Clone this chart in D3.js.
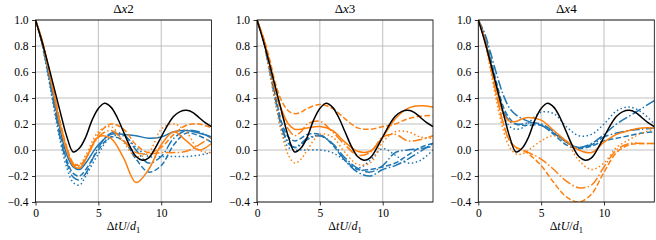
<!DOCTYPE html>
<html>
<head>
<meta charset="utf-8">
<script src="https://cdn.jsdelivr.net/npm/d3@7"></script>
<style>
body { margin: 0; background: #fff; }
svg text { fill: #000; }
</style>
</head>
<body>
<div id="chart"></div>
<script>
// sample times for the coloured curves
const T = [0, 0.5, 1, 1.5, 2, 2.5, 3, 3.5, 4, 5, 6, 7, 8, 9, 10, 11, 12, 13, 14];

// black reference curve (same in every panel)
const refT = [0, 0.5, 1, 1.5, 2, 2.5, 3, 3.5, 4, 4.5, 5, 5.5, 6, 6.5, 7, 7.5, 8, 8.5, 9, 9.5, 10, 10.5, 11, 11.5, 12, 12.5, 13, 13.5, 14];
const refCurve = [1, 0.84, 0.66, 0.47, 0.28, 0.1, -0.015, 0.015, 0.1, 0.23, 0.32, 0.36, 0.33, 0.25, 0.14, 0.03, -0.05, -0.078, -0.06, 0.01, 0.1, 0.19, 0.26, 0.295, 0.305, 0.29, 0.25, 0.21, 0.18];

const panelTitles = ["2", "3", "4"];
const xTicks = [0, 5, 10];
const yTicks = [-0.4, -0.2, 0, 0.2, 0.4, 0.6, 0.8, 1.0];

// Δx2
const dx2BlueSolid    = [1, 0.84, 0.62, 0.38, 0.14, -0.04, -0.13, -0.15, -0.1, 0.04, 0.12, 0.12, 0.11, 0.09, 0.1, 0.14, 0.15, 0.13, 0.1];
const dx2BlueDashed   = [1, 0.83, 0.6, 0.35, 0.1, -0.08, -0.18, -0.2, -0.15, 0.0, 0.1, 0.07, -0.07, -0.17, -0.12, 0.04, 0.13, 0.11, 0.06];
const dx2BlueDashDot  = [1, 0.83, 0.59, 0.33, 0.08, -0.1, -0.21, -0.23, -0.18, 0.02, 0.13, 0.12, 0.0, -0.1, -0.05, 0.09, 0.15, 0.14, 0.09];
const dx2BlueDotted   = [1, 0.82, 0.57, 0.3, 0.05, -0.14, -0.25, -0.27, -0.2, -0.03, 0.1, 0.11, 0.02, -0.05, -0.05, -0.05, -0.05, -0.04, -0.02];
const dx2OrangeSolid  = [1, 0.85, 0.64, 0.41, 0.18, 0.0, -0.12, -0.14, -0.07, 0.1, 0.09, -0.06, -0.25, -0.15, 0.04, 0.14, 0.07, 0.0, 0.05];
const dx2OrangeDashed = [1, 0.85, 0.65, 0.43, 0.2, 0.02, -0.1, -0.12, -0.06, 0.12, 0.2, 0.16, 0.04, -0.02, 0.02, 0.12, 0.19, 0.2, 0.17];
const dx2OrangeDashDot= [1, 0.85, 0.64, 0.42, 0.19, 0.01, -0.11, -0.13, -0.07, 0.1, 0.15, 0.07, -0.02, -0.03, -0.02, -0.02, -0.01, 0.04, 0.1];
const dx2OrangeDotted = [1, 0.84, 0.63, 0.4, 0.17, -0.01, -0.1, -0.11, -0.04, 0.14, 0.18, 0.06, -0.05, -0.02, 0.16, 0.2, 0.14, 0.0, -0.02];

// Δx3
const dx3BlueDashed   = [1, 0.85, 0.63, 0.4, 0.2, 0.1, 0.07, 0.09, 0.12, 0.12, 0.04, -0.08, -0.15, -0.15, -0.13, -0.1, -0.04, 0.02, 0.05];
const dx3BlueDashDot  = [1, 0.85, 0.62, 0.38, 0.17, 0.06, 0.02, 0.04, 0.08, 0.11, 0.05, -0.08, -0.17, -0.2, -0.15, -0.12, -0.07, -0.01, 0.05];
const dx3BlueDotted   = [1, 0.84, 0.6, 0.35, 0.13, 0.02, 0.0, 0.0, 0.0, 0.0, -0.02, -0.08, -0.14, -0.08, 0.01, -0.04, -0.1, -0.08, 0.0];
const dx3BlueDotted2  = [1, 0.85, 0.62, 0.37, 0.16, 0.05, 0.02, 0.05, 0.09, 0.11, 0.05, -0.06, -0.14, -0.17, -0.12, -0.02, 0.0, 0.01, 0.03];
const dx3OrangeSolid  = [1, 0.86, 0.67, 0.45, 0.3, 0.2, 0.16, 0.16, 0.17, 0.18, 0.15, 0.06, -0.01, -0.01, 0.1, 0.24, 0.32, 0.34, 0.33];
const dx3OrangeDashed = [1, 0.87, 0.7, 0.5, 0.37, 0.3, 0.28, 0.29, 0.32, 0.35, 0.32, 0.24, 0.17, 0.16, 0.18, 0.2, 0.24, 0.26, 0.265];
const dx3OrangeDashDot= [1, 0.86, 0.66, 0.44, 0.27, 0.16, 0.11, 0.14, 0.2, 0.22, 0.14, 0.04, -0.04, -0.02, 0.1, 0.12, 0.07, 0.08, 0.11];
const dx3OrangeDotted = [1, 0.84, 0.6, 0.35, 0.12, -0.04, -0.1, -0.07, 0.0, 0.12, 0.1, -0.02, -0.11, -0.1, 0.06, 0.14, 0.14, 0.1, 0.09];

// Δx4
const dx4BlueDashDot  = [1, 0.9, 0.74, 0.57, 0.42, 0.32, 0.27, 0.24, 0.22, 0.19, 0.13, 0.06, 0.02, 0.05, 0.12, 0.2, 0.26, 0.32, 0.38];
const dx4BlueDashed   = [1, 0.88, 0.7, 0.5, 0.33, 0.24, 0.2, 0.19, 0.19, 0.19, 0.12, 0.04, 0.01, 0.03, 0.07, 0.09, 0.11, 0.13, 0.14];
const dx4BlueDotted   = [1, 0.87, 0.67, 0.45, 0.27, 0.18, 0.16, 0.17, 0.21, 0.29, 0.28, 0.18, 0.11, 0.12, 0.2, 0.3, 0.33, 0.29, 0.2];
const dx4BlueDotted2  = [1, 0.87, 0.68, 0.47, 0.3, 0.22, 0.2, 0.2, 0.21, 0.2, 0.14, 0.06, 0.02, 0.04, 0.1, 0.13, 0.15, 0.16, 0.17];
const dx4OrangeSolid  = [1, 0.86, 0.66, 0.45, 0.28, 0.22, 0.22, 0.24, 0.25, 0.23, 0.15, 0.07, 0.0, -0.02, 0.06, 0.12, 0.15, 0.17, 0.17];
const dx4OrangeDashed = [1, 0.85, 0.63, 0.4, 0.2, 0.07, 0.02, 0.0, -0.03, -0.12, -0.25, -0.36, -0.4, -0.34, -0.17, -0.02, 0.04, 0.05, 0.05];
const dx4OrangeDashDot= [1, 0.85, 0.63, 0.4, 0.2, 0.07, 0.02, 0.0, -0.02, -0.07, -0.15, -0.24, -0.29, -0.27, -0.13, 0.0, 0.05, 0.05, 0.05];
const dx4OrangeDotted = [1, 0.84, 0.6, 0.35, 0.15, 0.02, -0.03, -0.03, 0.0, 0.07, 0.11, 0.06, -0.08, -0.15, -0.1, 0.02, 0.08, 0.13, 0.16];

const blue = '#1f77b4';
const orange = '#ff7f0e';
const dash = { solid: null, dashed: '5.5,2.4', dashdot: '9.6,2.4,1.5,2.4', dotted: '1.5,2.5' };
const fontFam = '"Liberation Serif", "Times New Roman", serif';

const panels = [
  { title: panelTitles[0], series: [
    [dx2BlueSolid, blue, 'solid'], [dx2BlueDashed, blue, 'dashed'], [dx2BlueDashDot, blue, 'dashdot'], [dx2BlueDotted, blue, 'dotted'],
    [dx2OrangeSolid, orange, 'solid'], [dx2OrangeDashed, orange, 'dashed'], [dx2OrangeDashDot, orange, 'dashdot'], [dx2OrangeDotted, orange, 'dotted'] ] },
  { title: panelTitles[1], series: [
    [dx3BlueDashed, blue, 'dashed'], [dx3BlueDashDot, blue, 'dashdot'], [dx3BlueDotted, blue, 'dotted'], [dx3BlueDotted2, blue, 'dashdot'],
    [dx3OrangeSolid, orange, 'solid'], [dx3OrangeDashed, orange, 'dashed'], [dx3OrangeDashDot, orange, 'dashdot'], [dx3OrangeDotted, orange, 'dotted'] ] },
  { title: panelTitles[2], series: [
    [dx4BlueDashDot, blue, 'dashdot'], [dx4BlueDashed, blue, 'dashed'], [dx4BlueDotted, blue, 'dotted'], [dx4BlueDotted2, blue, 'dashdot'],
    [dx4OrangeSolid, orange, 'solid'], [dx4OrangeDashed, orange, 'dashed'], [dx4OrangeDashDot, orange, 'dashdot'], [dx4OrangeDotted, orange, 'dotted'] ] }
];

const W = 656, H = 240;
const panelLeft = [35.5, 257, 478.3];
const pw = 176, plotTop = 20, ph = 182;

const svg = d3.select('#chart').append('svg')
  .attr('width', W)
  .attr('height', H)
  .attr('font-family', fontFam);

const x = d3.scaleLinear().domain([0, 14]).range([0, pw]);
const y = d3.scaleLinear().domain([-0.4, 1.0]).range([ph, 0]);

const line = d3.line()
  .x(d => x(d[0]))
  .y(d => y(d[1]))
  .curve(d3.curveCatmullRom.alpha(0.5));

panels.forEach((p, i) => {
  const g = svg.append('g').attr('transform', `translate(${panelLeft[i]},${plotTop})`);

  g.append('clipPath').attr('id', 'clip' + i)
    .append('rect').attr('width', pw).attr('height', ph);

  // grid
  g.append('g').selectAll('line').data(xTicks).enter().append('line')
    .attr('x1', d => x(d)).attr('x2', d => x(d)).attr('y1', 0).attr('y2', ph)
    .style('stroke', '#b0b0b0').style('stroke-width', 0.8);
  g.append('g').selectAll('line').data(yTicks).enter().append('line')
    .attr('x1', 0).attr('x2', pw).attr('y1', d => y(d)).attr('y2', d => y(d))
    .style('stroke', '#b0b0b0').style('stroke-width', 0.8);

  const curves = g.append('g').attr('clip-path', `url(#clip${i})`);
  p.series.forEach(s => {
    curves.append('path')
      .datum(T.map((t, k) => [t, s[0][k]]))
      .attr('d', line)
      .style('fill', 'none')
      .style('stroke', s[1])
      .style('stroke-width', 1.5)
      .style('stroke-dasharray', dash[s[2]]);
  });
  curves.append('path')
    .datum(refT.map((t, k) => [t, refCurve[k]]))
    .attr('d', line)
    .style('fill', 'none')
    .style('stroke', '#000')
    .style('stroke-width', 1.5);

  // axes
  const xAxis = g.append('g').attr('transform', `translate(0,${ph})`)
    .call(d3.axisBottom(x).tickValues(xTicks).tickSize(3.5).tickPadding(3.5));
  const yAxis = g.append('g')
    .call(d3.axisLeft(y).tickValues(yTicks).tickSize(3.5).tickPadding(3.5)
      .tickFormat(d => d3.format('.1f')(d).replace('-', '\u2212')));
  [xAxis, yAxis].forEach(a => {
    a.attr('font-family', fontFam).attr('font-size', 11.5);
    a.select('.domain').remove();
    a.selectAll('line').style('stroke', '#000').style('stroke-width', 0.8);
  });

  g.append('rect').attr('width', pw).attr('height', ph)
    .style('fill', 'none').style('stroke', '#000').style('stroke-width', 0.8);

  // title
  const title = g.append('text').attr('x', pw / 2).attr('y', -7)
    .attr('text-anchor', 'middle').attr('font-size', 13);
  title.append('tspan').text('\u0394');
  title.append('tspan').attr('font-style', 'italic').text('x');
  title.append('tspan').text(p.title);

  // x label
  const xl = g.append('text').attr('x', pw / 2).attr('y', ph + 28)
    .attr('text-anchor', 'middle').attr('font-size', 12);
  xl.append('tspan').text('\u0394');
  xl.append('tspan').attr('font-style', 'italic').text('tU');
  xl.append('tspan').text('/');
  xl.append('tspan').attr('font-style', 'italic').text('d');
  xl.append('tspan').attr('dy', 2.5).attr('font-size', 8.5).text('1');
});
</script>
</body>
</html>
